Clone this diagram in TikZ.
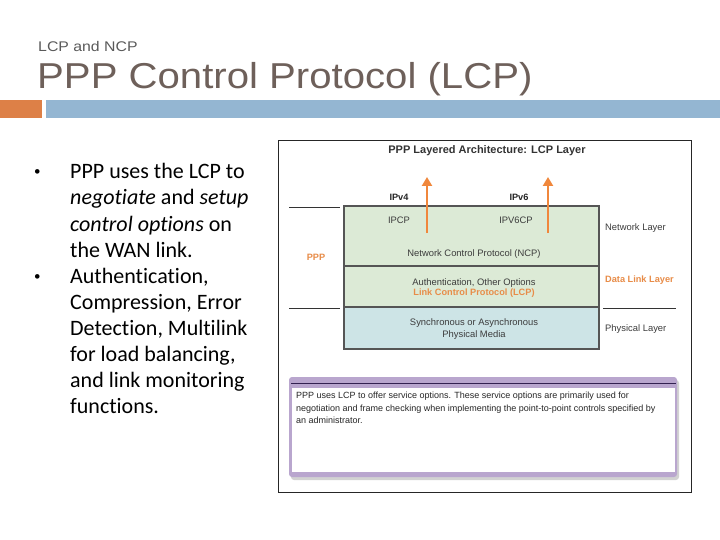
\documentclass[tikz,border=0pt]{standalone}
\usepackage{fontspec}
\setmainfont{Liberation Sans}
\newfontfamily\calib[Ligatures=CommonOff]{Carlito}
\usetikzlibrary{arrows.meta,shadows}
\definecolor{titlegray}{RGB}{110,96,90}
\definecolor{subgray}{RGB}{90,90,90}
\definecolor{barorange}{RGB}{221,128,71}
\definecolor{barblue}{RGB}{148,182,210}
\definecolor{lgreen}{RGB}{220,234,214}
\definecolor{lteal}{RGB}{205,228,230}
\definecolor{boxgray}{RGB}{85,85,85}
\definecolor{txtorange}{RGB}{232,140,72}
\definecolor{arrorange}{RGB}{240,135,60}
\definecolor{lpurple}{RGB}{185,166,206}
\definecolor{dpurple}{RGB}{50,32,80}
\definecolor{dtext}{RGB}{60,60,60}
\tikzset{
  bul/.style={anchor=base west, inner sep=0, font=\calib\fontsize{22}{26}\selectfont, text=black},
  bdot/.style={anchor=base west, inner sep=0, font=\calib\fontsize{13}{26}\selectfont, text=black},
  layer/.style={draw=boxgray, line width=1.1pt, minimum width=255pt, inner sep=0},
  dlab/.style={inner sep=0, font=\fontsize{9.4}{11}\selectfont, text=dtext},
  dbold/.style={inner sep=0, font=\bfseries\fontsize{9.2}{11}\selectfont},
  sideline/.style={line width=0.9pt, black!80},
  uparrow/.style={draw=arrorange, line width=2.6pt, -{Triangle[width=10pt,length=9pt]}},
  btext/.style={anchor=base west, inner sep=0, font=\fontsize{9}{11}\selectfont, text=black!85}
}
\begin{document}
\begin{tikzpicture}[x=1pt,y=-1pt]
\useasboundingbox (0,0) rectangle (720,540);
\fill[white] (0,0) rectangle (720,540);
% header
\node[anchor=base west, inner sep=0, xscale=1.13, font=\fontsize{14}{16}\selectfont, text=subgray] (sub) at (38,52) {LCP and NCP};
\node[anchor=base west, inner sep=0, xscale=1.115, font=\fontsize{36}{42}\selectfont, text=titlegray] (title) at (37,89) {PPP Control Protocol (LCP)};
\fill[barorange] (0,100) rectangle (42,118);
\fill[barblue] (46,100) rectangle (720,118);
% bullets
\node[bdot] (b1) at (34,176) {\textbullet};
\node[bdot] (b2) at (34,280) {\textbullet};
\node[bul] (l1) at (70,179) {PPP uses the LCP to};
\node[bul] (l2) at (70,205) {\textit{negotiate} and \textit{setup}};
\node[bul] (l3) at (70,231) {\textit{control options} on};
\node[bul] (l4) at (70,257) {the WAN link.};
\node[bul] (l5) at (70,283) {Authentication,};
\node[bul] (l6) at (70,309) {Compression, Error};
\node[bul] (l7) at (70,335) {Detection, Multilink};
\node[bul] (l8) at (70,361) {for load balancing,};
\node[bul] (l9) at (70,387) {and link monitoring};
\node[bul] (l10) at (70,413) {functions.};
% diagram frame
\draw[line width=1pt, black!85] (278,141) rectangle (691,492);
\node[dbold, font=\bfseries\fontsize{11}{13}\selectfont, text=black!80] (dtitle) at (487,151) {PPP Layered Architecture: LCP Layer};
% layers
\node[layer, fill=lgreen, minimum height=60pt] (ncp) at (471.5,236) {};
\node[layer, fill=lgreen, minimum height=41pt] (lcp) at (471.5,286.5) {};
\node[layer, fill=lteal, minimum height=42pt] (phys) at (471.5,328) {};
% side lines
\coordinate (sl1a) at (289,207); \coordinate (sl1b) at (340,207);
\coordinate (sl2a) at (289,308); \coordinate (sl2b) at (340,308);
\coordinate (sr2a) at (603,308); \coordinate (sr2b) at (676,308);
\draw[sideline] (sl1a) -- (sl1b);
\draw[sideline] (sl2a) -- (sl2b);
\draw[sideline] (sr2a) -- (sr2b);
% labels
\node[dbold, text=black!85] (ipv4) at (399,197) {IPv4};
\node[dbold, text=black!85] (ipv6) at (519,197) {IPv6};
\node[dlab] (ipcp) at (399,220) {IPCP};
\node[dlab] (ipv6cp) at (516,220) {IPV6CP};
\node[dlab] (ncpt) at (474,254) {Network Control Protocol (NCP)};
\node[dlab] (auth) at (474,283) {Authentication, Other Options};
\node[dbold, text=txtorange] (lcpt) at (474,293) {Link Control Protocol (LCP)};
\node[dlab] (sync) at (474,323) {Synchronous or Asynchronous};
\node[dlab] (pmed) at (474,335) {Physical Media};
\node[dlab, anchor=west] (netl) at (605,228) {Network Layer};
\node[dbold, anchor=west, text=txtorange] (dll) at (605,280) {Data Link Layer};
\node[dlab, anchor=west] (phl) at (605,329) {Physical Layer};
\node[dbold, text=txtorange] (ppp) at (316,257) {PPP};
% arrows
\coordinate (a1s) at (427,233); \coordinate (a1e) at (427,177);
\coordinate (a2s) at (548,233); \coordinate (a2e) at (548,177);
\draw[uparrow] (a1s) -- (a1e);
\draw[uparrow] (a2s) -- (a2e);
% bottom box
\fill[lpurple, rounded corners=3pt, drop shadow={shadow xshift=2pt, shadow yshift=-3pt, opacity=0.35}] (289,377) rectangle (677,477);
\fill[white] (292,388) rectangle (675,472);
\draw[line width=1pt, dpurple] (291,383) -- (676,383);
\node[btext] (t1) at (296,398) {PPP uses LCP to offer service options. These service options are primarily used for};
\node[btext] (t2) at (296,411) {negotiation and frame checking when implementing the point-to-point controls specified by};
\node[btext] (t3) at (296,423) {an administrator.};
\end{tikzpicture}
\end{document}
